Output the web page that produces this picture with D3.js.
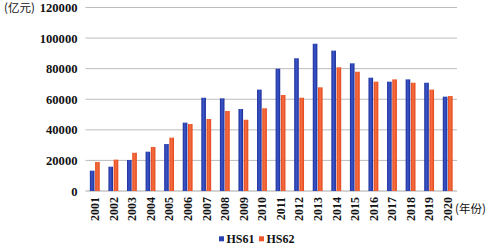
<!DOCTYPE html>
<html>
<head>
<meta charset="utf-8">
<style>
  body { margin: 0; background: #fff; }
  text { font-family: "Liberation Serif", "Times New Roman", serif; font-weight: bold; fill: #111; }
  .cjk { font-family: "Noto Sans CJK SC", sans-serif; font-weight: normal; }
</style>
</head>
<body>
<svg width="488" height="246"></svg>
<script src="https://d3js.org/d3.v7.min.js"></script>
<script>
// data (亿元)
var years = ["2001","2002","2003","2004","2005","2006","2007","2008","2009","2010",
             "2011","2012","2013","2014","2015","2016","2017","2018","2019","2020"];
var hs61 = [13300,15900,20300,25700,30700,44700,61000,60600,53600,66300,
            80000,86800,96300,91800,83500,74100,71500,73000,70800,61700];
var hs62 = [19000,20500,25000,28800,34900,43800,47100,52300,46600,54100,
            62800,61000,67800,80900,78000,71500,73000,70800,66300,62100];
var seriesNames = ["HS61", "HS62"];
var yTicks = [0, 20000, 40000, 60000, 80000, 100000, 120000];

var svg = d3.select("svg");
var plotL = 85.5, plotR = 457, plotT = 7.5, plotB = 191;

var x = d3.scaleBand().domain(years).range([plotL, plotR]).paddingInner(0.47).paddingOuter(0.235);
var xs = d3.scaleBand().domain(seriesNames).range([0, x.bandwidth()]).paddingInner(0.12);
var y = d3.scaleLinear().domain([0, 120000]).range([plotB, plotT]);

// gradients to mimic the shaded bars
var defs = svg.append("defs");
function grad(id, edge, mid) {
  var g = defs.append("linearGradient").attr("id", id).attr("x1", "0").attr("x2", "1").attr("y1", "0").attr("y2", "0");
  g.append("stop").attr("offset", "0%").attr("stop-color", edge);
  g.append("stop").attr("offset", "45%").attr("stop-color", mid);
  g.append("stop").attr("offset", "100%").attr("stop-color", edge);
}
grad("gBlue", "#1c2c96", "#3b57c9");
grad("gRed", "#e5461c", "#f46f40");
var fills = { HS61: "url(#gBlue)", HS62: "url(#gRed)" };
var solid = { HS61: "#2a40b0", HS62: "#ee5529" };

// grid
svg.append("g").selectAll("line").data(yTicks).enter().append("line")
  .attr("x1", plotL).attr("x2", plotR)
  .attr("y1", function (d) { return y(d); }).attr("y2", function (d) { return y(d); })
  .attr("stroke", function (d) { return d === 0 ? "#a8a8a8" : "#bcbcbc"; })
  .attr("stroke-width", 1);

// y axis labels
var yAxis = d3.axisLeft(y).tickValues(yTicks).tickSize(0).tickPadding(8).tickFormat(d3.format("d"));
svg.append("g").attr("transform", "translate(" + plotL + ",0)").call(yAxis)
  .call(function (g) { g.select(".domain").remove(); })
  .selectAll("text").style("font-size", "12.6px").style("font-family", null);

// bars
var rows = years.map(function (yr, i) { return { year: yr, vals: [{ k: "HS61", v: hs61[i] }, { k: "HS62", v: hs62[i] }] }; });
var grp = svg.append("g").selectAll("g").data(rows).enter().append("g")
  .attr("transform", function (d) { return "translate(" + x(d.year) + ",0)"; });
grp.selectAll("rect").data(function (d) { return d.vals; }).enter().append("rect")
  .attr("x", function (d) { return xs(d.k); })
  .attr("width", xs.bandwidth())
  .attr("y", function (d) { return y(d.v); })
  .attr("height", function (d) { return y(0) - y(d.v); })
  .attr("fill", function (d) { return fills[d.k]; });

// x axis labels (rotated)
var xAxis = d3.axisBottom(x).tickSize(0).tickPadding(0);
var xg = svg.append("g").attr("transform", "translate(0," + plotB + ")").call(xAxis);
xg.select(".domain").remove();
xg.selectAll("text")
  .style("font-size", "12px").style("font-family", null)
  .attr("text-anchor", "end")
  .attr("transform", "rotate(-90)")
  .attr("x", -6).attr("y", 0).attr("dy", "0.36em");

// unit labels
svg.append("text").attr("class", "cjk").attr("x", 4).attr("y", 12).style("font-size", "11.5px").text("(亿元)");
svg.append("text").attr("class", "cjk").attr("x", 455).attr("y", 213).style("font-size", "11.5px").text("(年份)");

// legend
var lg = svg.append("g").attr("transform", "translate(219,239)");
var items = lg.selectAll("g").data(seriesNames).enter().append("g")
  .attr("transform", function (d, i) { return "translate(" + (i * 40) + ",0)"; });
items.append("rect").attr("x", 0).attr("y", -2.7).attr("width", 5).attr("height", 5)
  .attr("fill", function (d) { return solid[d]; });
items.append("text").attr("x", 7.5).attr("y", 0).attr("dy", "0.35em").style("font-size", "12px").text(function (d) { return d; });
</script>
</body>
</html>
